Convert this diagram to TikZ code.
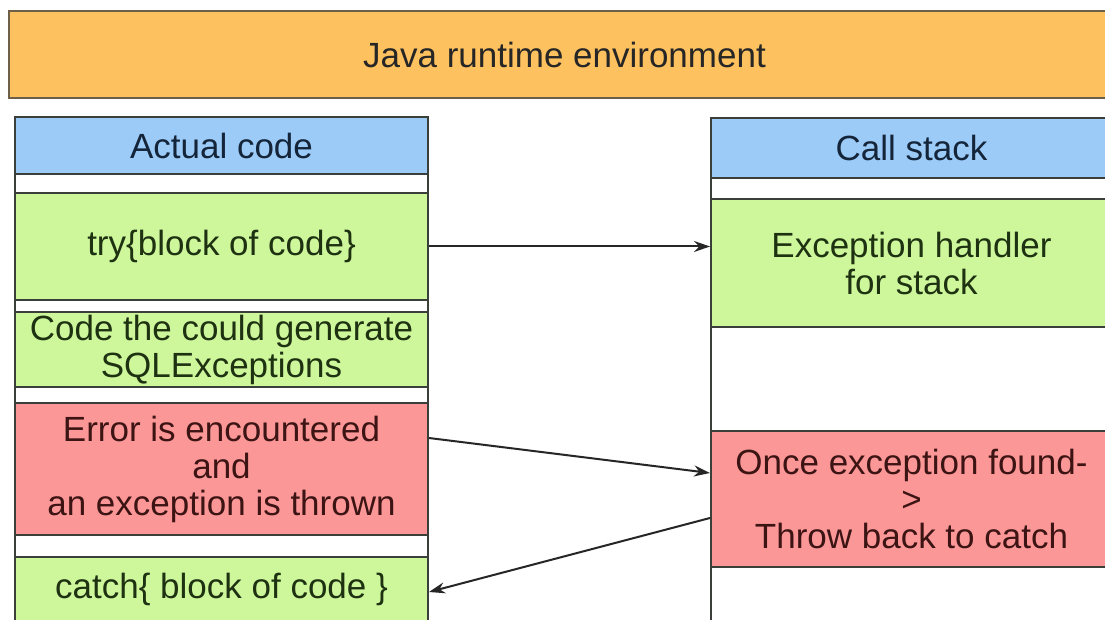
\documentclass[tikz,border=0pt]{standalone}
\usepackage{fontspec}
\setmainfont{Liberation Sans}
\usetikzlibrary{arrows.meta}

\definecolor{jrefill}{HTML}{FDC25F}
\definecolor{jreedge}{HTML}{6E6048}
\definecolor{headfill}{HTML}{9CCBF8}
\definecolor{headtext}{HTML}{14253A}
\definecolor{okfill}{HTML}{CEF79C}
\definecolor{oktext}{HTML}{1E3212}
\definecolor{errfill}{HTML}{FC9797}
\definecolor{errtext}{HTML}{3C1414}
\definecolor{edge}{HTML}{3A3F3A}

\begin{document}
\begin{tikzpicture}[x=0.5pt, y=-0.5pt,
  cell/.style={draw=edge, line width=1pt, inner sep=0pt, align=center,
    font=\fontsize{17.5}{18.5}\selectfont},
  leftcell/.style={cell, minimum width=206.5pt},
  rightcell/.style={cell, minimum width=200.5pt},
  head/.style={fill=headfill, text=headtext},
  ok/.style={fill=okfill, text=oktext},
  bad/.style={fill=errfill, text=errtext},
  column/.style={draw=edge, line width=1pt, fill=white, inner sep=0pt},
  flow/.style={draw=black!85, line width=1pt, -{Stealth[length=8pt, width=5.5pt]}}]

\useasboundingbox (0,0) rectangle (1105,620);
\clip (0,0) rectangle (1105,620);
\fill[white] (0,0) rectangle (1105,620);

% runtime banner
\node[cell, fill=jrefill, draw=jreedge, text=black!85,
  minimum width=555.5pt, minimum height=43.5pt] (jre) at (564.5,54.5) {Java runtime environment};

% left column: the code
\node[column, minimum width=206.5pt, minimum height=252pt] (codecol) at (221.5,369) {};
\node[leftcell, head, minimum height=28.5pt] (acthead) at (221.5,145.5) {Actual code};
\node[leftcell, ok, minimum height=53.5pt] (try) at (221.5,246.5) {try\{block of code\}};
\node[leftcell, ok, minimum height=37.5pt] (sql) at (221.5,349.5) {Code the could generate\\SQLExceptions};
\node[leftcell, bad, minimum height=66pt] (err) at (221.5,469) {Error is encountered\\and\\an exception is thrown};
\node[leftcell, ok, minimum height=32pt] (catch) at (221.5,589) {catch\{ block of code \}};

% right column: the call stack
\node[column, minimum width=200.5pt, minimum height=251.5pt] (stackcol) at (911.5,369.5) {};
\node[rightcell, head, minimum height=30pt] (stackhead) at (911.5,148) {Call stack};
\node[rightcell, ok, minimum height=64pt] (handler) at (911.5,263) {Exception handler\\for stack};
\node[rightcell, bad, minimum height=68pt] (found) at (911.5,499) {Once exception found-\\>\\Throw back to catch};

% control flow
\draw[flow] (try.east) -- (try.east -| handler.west);
\draw[flow] ([yshift=15.5pt]err.east) -- ([yshift=13pt]found.west);
\draw[flow] ([yshift=-9.5pt]found.west) -- ([yshift=-1.5pt]catch.east);
\end{tikzpicture}
\end{document}
